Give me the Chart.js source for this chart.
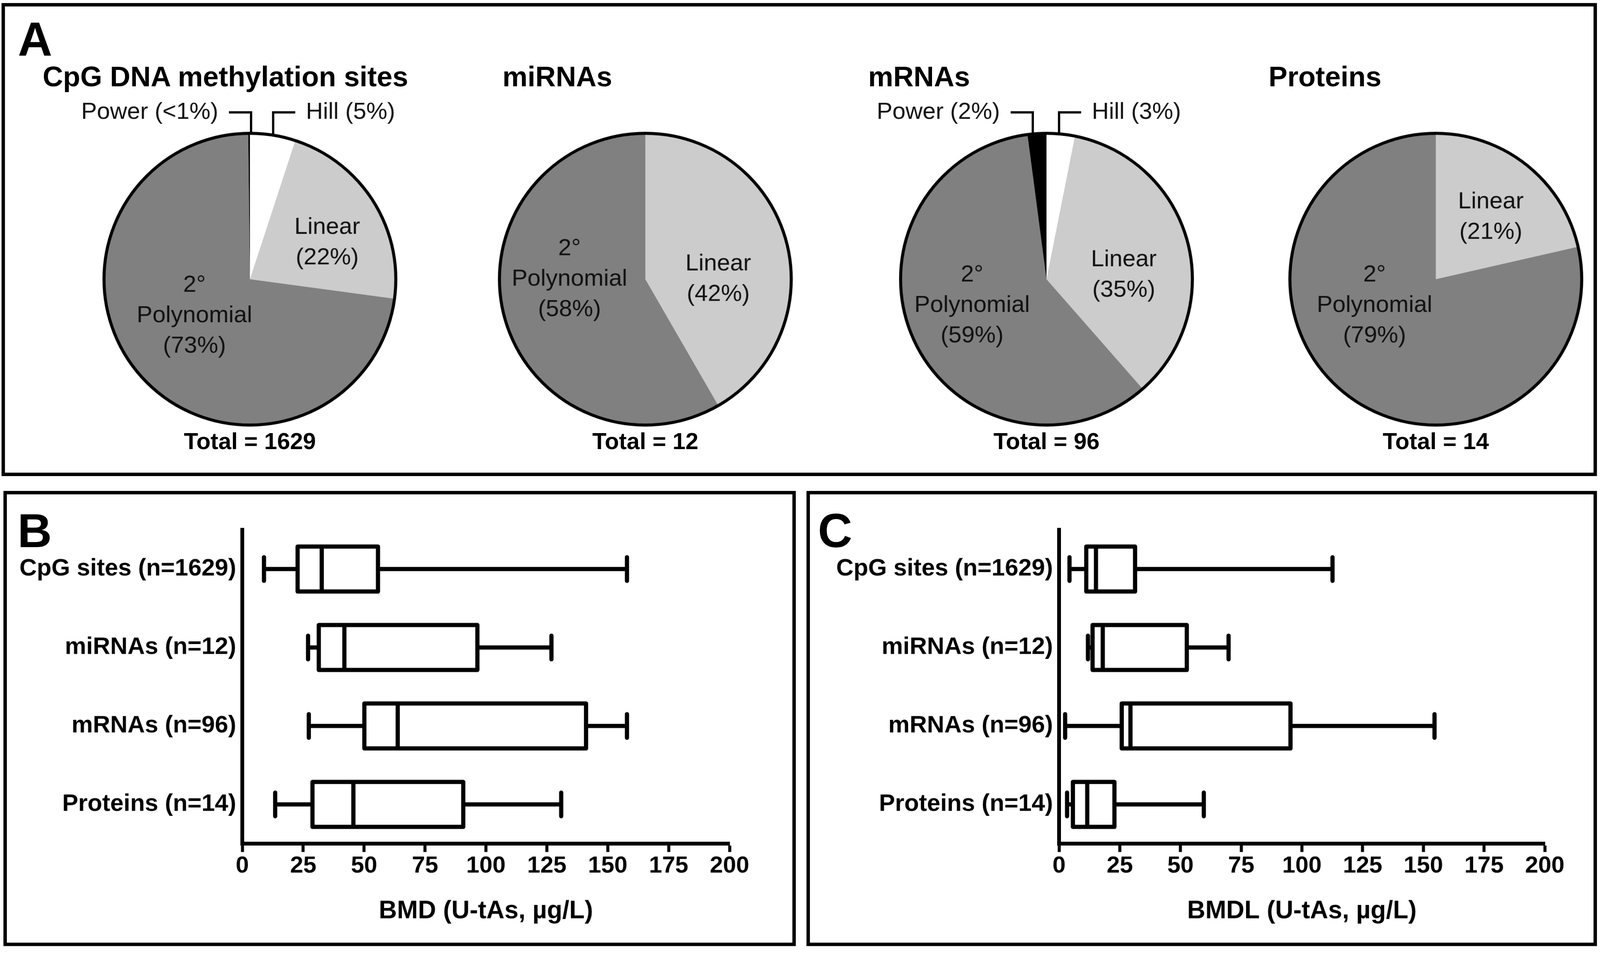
<!DOCTYPE html>
<html>
<head>
<meta charset="utf-8">
<script src="https://cdn.jsdelivr.net/npm/chart.js@4.4.0/dist/chart.umd.min.js"></script>
<style>
html, body { margin: 0; padding: 0; background: #fff; overflow: hidden; }
#page { position: relative; width: 4200px; height: 2494px; background: #fff; overflow: hidden;
        transform-origin: 0 0;
        font-family: 'Liberation Sans', Arial, Helvetica, sans-serif; color: #000; }
.panel { position: absolute; border: 9px solid #000; box-sizing: border-box; }
.txt { position: absolute; line-height: 1; white-space: nowrap; font-weight: bold; }
canvas { position: absolute; }
</style>
</head>
<body>
<div id="page">
  <div class="panel" style="left:4px;top:8px;width:4188px;height:1242px"></div>
  <div class="panel" style="left:9px;top:1289px;width:2080px;height:1195px"></div>
  <div class="panel" style="left:2117px;top:1289px;width:2075px;height:1195px"></div>
  <div class="txt" style="left:47px;top:41px;font-size:125px">A</div>
  <div class="txt" style="left:46px;top:1331px;font-size:125px">B</div>
  <div class="txt" style="left:2147px;top:1331px;font-size:125px">C</div>

  <canvas id="pie0" width="1000" height="1000" style="left:156px;top:233px"></canvas>
  <canvas id="pie1" width="1000" height="1000" style="left:1194px;top:233px"></canvas>
  <canvas id="pie2" width="1000" height="1000" style="left:2247px;top:233px"></canvas>
  <canvas id="pie3" width="1000" height="1000" style="left:3269px;top:233px"></canvas>

  <canvas id="boxB" width="2100" height="1200" style="left:0px;top:1290px"></canvas>
  <canvas id="boxC" width="2100" height="1200" style="left:2100px;top:1290px"></canvas>
</div>

<script>
var FONT = "'Liberation Sans', Arial, Helvetica, sans-serif";
Chart.defaults.font.family = FONT;
Chart.defaults.color = '#000';

// --- panel A data (number of features per best-fit model)
var models = ['Hill', 'Linear', '2° Polynomial', 'Power'];
var modelColors = ['#ffffff', '#cccccc', '#808080', '#000000'];
var pieTitles = ['CpG DNA methylation sites', 'miRNAs', 'mRNAs', 'Proteins'];
var cpgCounts = [82, 360, 1184, 3];
var mirnaCounts = [0, 5, 7, 0];
var mrnaCounts = [3, 34, 57, 2];
var proteinCounts = [0, 3, 11, 0];

// --- panels B and C data (box plots)
var groups = ['CpG sites (n=1629)', 'miRNAs (n=12)', 'mRNAs (n=96)', 'Proteins (n=14)'];
var xTicks = [0, 25, 50, 75, 100, 125, 150, 175, 200];

var bmdMin = [8.9, 27.0, 27.3, 13.5];
var bmdQ1 = [22.7, 31.4, 50.1, 28.8];
var bmdMed = [32.6, 41.9, 63.8, 45.6];
var bmdQ3 = [55.7, 96.5, 141.1, 90.7];
var bmdMax = [157.9, 126.9, 157.9, 130.9];

var bmdlMin = [4.3, 11.9, 2.5, 3.3];
var bmdlQ1 = [11.2, 13.8, 25.8, 5.7];
var bmdlMed = [15.2, 18.0, 29.4, 11.6];
var bmdlQ3 = [31.3, 52.6, 95.3, 22.8];
var bmdlMax = [112.6, 69.8, 154.6, 59.6];

// fit the 4200x2494 layout into whatever the viewport really is
var page = document.getElementById('page');
var fit = Math.min(window.innerWidth / 4200, window.innerHeight / 2494);
if (fit > 0 && Math.abs(fit - 1) > 0.001) {
    page.style.transform = 'scale(' + fit + ')';
}

function pctText(v, total) {
    var p = v / total * 100;
    return p < 1 ? '<1%' : Math.round(p) + '%';
}

// outline, labels inside slices and the little callout lines
var pieDecor = {
    id: 'pieDecor',
    afterDatasetsDraw: function (chart, args, opts) {
        var ctx = chart.ctx;
        var arc = chart.getDatasetMeta(0).data[0];
        var cx = arc.x, cy = arc.y, r = arc.outerRadius;
        var vals = chart.data.datasets[0].data;
        var total = vals.reduce(function (a, b) { return a + b; }, 0);

        ctx.save();
        ctx.strokeStyle = '#000';
        ctx.lineWidth = 8;
        ctx.beginPath();
        ctx.arc(cx, cy, r, 0, Math.PI * 2);
        ctx.stroke();

        ctx.fillStyle = '#111';
        ctx.font = '62px ' + FONT;
        ctx.textAlign = 'center';
        ctx.textBaseline = 'middle';
        opts.inside.forEach(function (lab) {
            var lines = chart.data.labels[lab.slice].split(' ');
            lines.push('(' + pctText(vals[lab.slice], total) + ')');
            var y0 = cy + lab.dy * r - (lines.length - 1) * 40;
            lines.forEach(function (t, k) {
                ctx.fillText(t, cx + lab.dx * r, y0 + k * 80);
            });
        });

        opts.callouts.forEach(function (c) {
            var x = cx + c.vx;
            var ly = cy - r - 55;
            var yEdge = cy - Math.sqrt(r * r - c.vx * c.vx);
            var x2 = x + c.side * 58;
            ctx.lineWidth = 6;
            ctx.beginPath();
            ctx.moveTo(x2, ly);
            ctx.lineTo(x, ly);
            ctx.lineTo(x, yEdge);
            ctx.stroke();
            ctx.textAlign = c.side < 0 ? 'right' : 'left';
            ctx.fillText(chart.data.labels[c.slice] + ' (' + pctText(vals[c.slice], total) + ')',
                x2 + c.side * 28, ly);
        });
        ctx.restore();
    }
};

var pies = [
    {counts: cpgCounts, cx: 656, titleX: 112,
     inside: [{slice: 1, dx: 0.53, dy: -0.25}, {slice: 2, dx: -0.38, dy: 0.25}],
     callouts: [{slice: 3, vx: 3, side: -1}, {slice: 0, vx: 61, side: 1}]},
    {counts: mirnaCounts, cx: 1694, titleX: 1319,
     inside: [{slice: 1, dx: 0.50, dy: 0.0}, {slice: 2, dx: -0.52, dy: 0.0}],
     callouts: []},
    {counts: mrnaCounts, cx: 2747, titleX: 2279,
     inside: [{slice: 1, dx: 0.53, dy: -0.03}, {slice: 2, dx: -0.51, dy: 0.18}],
     callouts: [{slice: 3, vx: -36, side: -1}, {slice: 0, vx: 33, side: 1}]},
    {counts: proteinCounts, cx: 3769, titleX: 3330,
     inside: [{slice: 1, dx: 0.377, dy: -0.426}, {slice: 2, dx: -0.42, dy: 0.18}],
     callouts: []}
];

pies.forEach(function (p, i) {
    var title = document.createElement('div');
    title.className = 'txt';
    title.style.cssText = 'left:' + p.titleX + 'px;top:165px;font-size:74px';
    title.textContent = pieTitles[i];
    page.appendChild(title);

    var total = p.counts.reduce(function (a, b) { return a + b; }, 0);
    var tot = document.createElement('div');
    tot.className = 'txt';
    tot.style.cssText = 'left:' + p.cx + 'px;top:1128px;font-size:61px;transform:translateX(-50%)';
    tot.textContent = 'Total = ' + total;
    page.appendChild(tot);

    new Chart(document.getElementById('pie' + i), {
        type: 'pie',
        data: {
            labels: models,
            datasets: [{data: p.counts, backgroundColor: modelColors, borderWidth: 0}]
        },
        options: {
            responsive: false,
            animation: false,
            radius: 383,
            layout: {padding: 0},
            plugins: {
                legend: {display: false},
                tooltip: {enabled: false},
                pieDecor: {inside: p.inside, callouts: p.callouts}
            }
        },
        plugins: [pieDecor]
    });
});

// whiskers, box outline and median line on top of the floating bars
var boxDecor = {
    id: 'boxDecor',
    afterDatasetsDraw: function (chart) {
        var ctx = chart.ctx, xs = chart.scales.x;
        var ds = chart.data.datasets[0];
        var meta = chart.getDatasetMeta(0);
        ctx.save();
        ctx.strokeStyle = '#000';
        ctx.lineWidth = 11;
        ctx.lineJoin = 'round';
        ctx.lineCap = 'round';
        meta.data.forEach(function (bar, i) {
            var y = bar.y, h = bar.height;
            var top = y - h / 2, bottom = y + h / 2;
            var x1 = xs.getPixelForValue(ds.data[i][0]);
            var x3 = xs.getPixelForValue(ds.data[i][1]);
            var xm = xs.getPixelForValue(ds.medians[i]);
            var xl = xs.getPixelForValue(ds.mins[i]);
            var xh = xs.getPixelForValue(ds.maxs[i]);
            var cap = h * 0.263;
            ctx.beginPath();
            ctx.rect(x1, top, x3 - x1, h);
            ctx.moveTo(xm, top); ctx.lineTo(xm, bottom);
            ctx.moveTo(xl, y); ctx.lineTo(x1, y);
            ctx.moveTo(x3, y); ctx.lineTo(xh, y);
            ctx.moveTo(xl, y - cap); ctx.lineTo(xl, y + cap);
            ctx.moveTo(xh, y - cap); ctx.lineTo(xh, y + cap);
            ctx.stroke();
        });
        ctx.restore();
    }
};

function boxChart(id, axisTitle, mins, q1, meds, q3, maxs, yWidth, padRight) {
    return new Chart(document.getElementById(id), {
        type: 'bar',
        data: {
            labels: groups,
            datasets: [{
                data: groups.map(function (g, i) { return [q1[i], q3[i]]; }),
                mins: mins, medians: meds, maxs: maxs,
                backgroundColor: '#ffffff',
                borderWidth: 0,
                barPercentage: 0.573,
                categoryPercentage: 1
            }]
        },
        options: {
            indexAxis: 'y',
            responsive: false,
            animation: false,
            layout: {padding: {left: 0, right: padRight, top: 101, bottom: 45}},
            scales: {
                x: {
                    type: 'linear', min: 0, max: 200,
                    afterBuildTicks: function (s) { s.ticks = xTicks.map(function (v) { return {value: v}; }); },
                    afterFit: function (s) { s.height = 230; },
                    ticks: {color: '#000', font: {size: 62, weight: 'bold'}, padding: 0, maxRotation: 0, autoSkip: false},
                    grid: {drawOnChartArea: false, drawTicks: true, tickLength: 22, tickWidth: 8, color: '#000'},
                    border: {display: true, width: 10, color: '#000'},
                    title: {display: true, text: axisTitle, color: '#000',
                            font: {size: 66, weight: 'bold'}, padding: {top: 0, bottom: 13}}
                },
                y: {
                    type: 'category',
                    afterFit: function (s) { s.width = yWidth; },
                    ticks: {color: '#000', font: {size: 63, weight: 'bold'}, padding: 16},
                    grid: {drawOnChartArea: false, drawTicks: false},
                    border: {display: true, width: 10, color: '#000'}
                }
            },
            plugins: {legend: {display: false}, tooltip: {enabled: false}}
        },
        plugins: [boxDecor]
    });
}

boxChart('boxB', 'BMD (U-tAs, µg/L)', bmdMin, bmdQ1, bmdMed, bmdQ3, bmdMax, 636, 185);
boxChart('boxC', 'BMDL (U-tAs, µg/L)', bmdlMin, bmdlQ1, bmdlMed, bmdlQ3, bmdlMax, 680, 145);
</script>
</body>
</html>
